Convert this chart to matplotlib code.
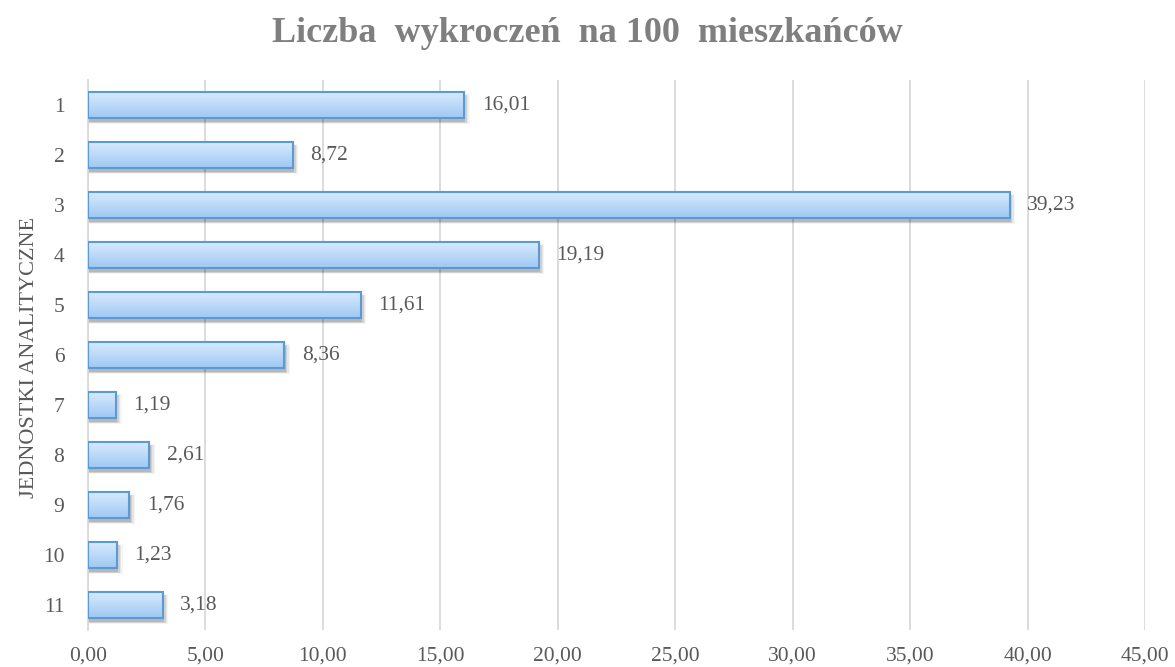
import matplotlib
matplotlib.use("Agg")
import matplotlib.pyplot as plt
import numpy as np

categories = ["1", "2", "3", "4", "5", "6", "7", "8", "9", "10", "11"]
values = [16.01, 8.72, 39.23, 19.19, 11.61, 8.36, 1.19, 2.61, 1.76, 1.23, 3.18]
xticks = [0, 5, 10, 15, 20, 25, 30, 35, 40, 45]

plt.rcParams['font.family'] = ['Liberation Serif', 'DejaVu Serif']
gray = '#595959'

fig = plt.figure(figsize=(11.75, 6.67), dpi=100)
ax = fig.add_axes([0.0749, 0.0555, 0.8996, 0.8245])

y = np.arange(len(categories))
h = 0.52

# shadows
for i, v in enumerate(values):
    for k, a in enumerate([0.12, 0.09, 0.06, 0.04]):
        ax.barh(i + 0.08, v + 0.06 * (k + 1), height=h + 0.025 * k, left=0,
                color='#000000', alpha=a, edgecolor='none', zorder=2)

grad = np.linspace(0, 1, 256).reshape(-1, 1)
cmap = matplotlib.colors.LinearSegmentedColormap.from_list('g', ['#d8eafd', '#9fc8f4'])
bars = ax.barh(y, values, height=h, color='none', edgecolor='#5b9bd5', linewidth=1.5, zorder=4)
for b in bars:
    x0, y0 = b.get_x(), b.get_y()
    w, hh = b.get_width(), b.get_height()
    im = ax.imshow(grad, extent=[x0, x0 + w, y0 + hh, y0], aspect='auto', cmap=cmap,
                   zorder=3, interpolation='bicubic')
    im.set_clip_path(b)

for i, v in enumerate(values):
    ax.text(v + 0.75, i, f"{v:.2f}".replace('.', ','), va='center', ha='left',
            fontsize=15.5, color=gray, zorder=5)

ax.set_xlim(0, 45)
ax.set_ylim(len(categories) - 0.5, -0.5)
ax.set_xticks(xticks)
ax.set_xticklabels([f"{t:.2f}".replace('.', ',') for t in xticks], fontsize=15.5, color=gray)
ax.set_yticks(y)
ax.set_yticklabels(categories, fontsize=15.5, color=gray)
ax.tick_params(axis='y', length=0, pad=17)
ax.tick_params(axis='x', length=0, pad=12)
ax.xaxis.grid(True, color='#d9d9d9', linewidth=1.3, zorder=0)
ax.set_axisbelow(True)
for s in ['top', 'right', 'bottom']:
    ax.spines[s].set_visible(False)
ax.spines['left'].set_color('#d9d9d9')
ax.spines['left'].set_linewidth(1.3)

fig.text(30 / 1175, 1 - 357 / 667, "JEDNOSTKI ANALITYCZNE", rotation=90, ha='center',
         va='center', fontsize=16, color=gray)
fig.text(0.5, 0.95, "Liczba  wykroczeń  na 100  mieszkańców", ha='center', va='center',
         fontsize=26, fontweight='bold', color='#7f7f7f')

fig.savefig("out.png", dpi=100)
